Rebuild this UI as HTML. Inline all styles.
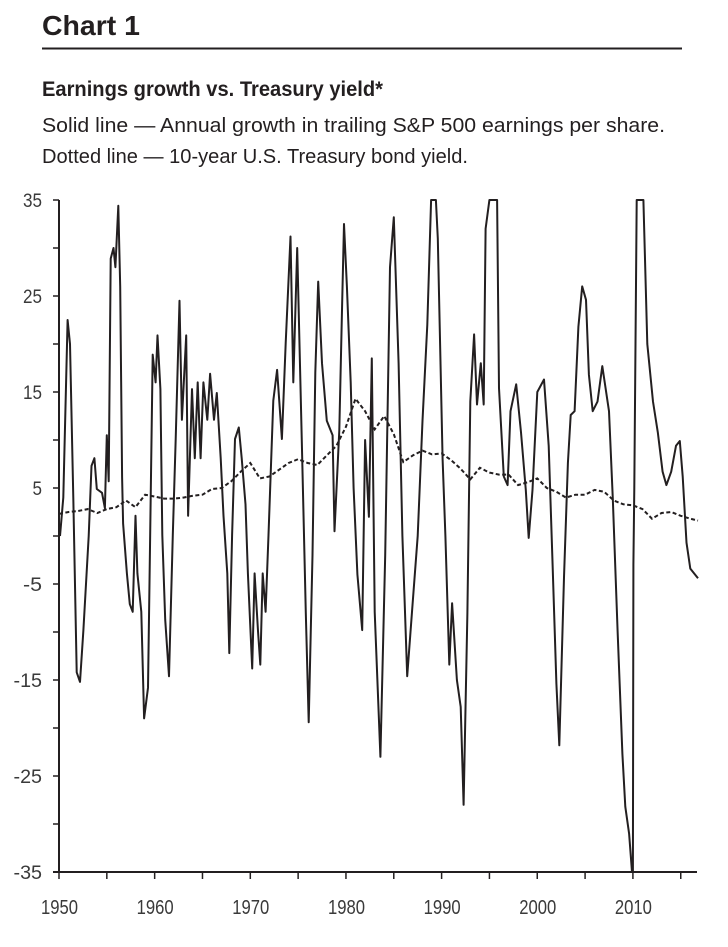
<!DOCTYPE html>
<html><head><meta charset="utf-8">
<style>
html,body{margin:0;padding:0;background:#fff;}
body{width:728px;height:942px;overflow:hidden;font-family:"Liberation Sans",sans-serif;color:#231f20;}
</style></head>
<body>
<svg width="728" height="942" viewBox="0 0 728 942" xmlns="http://www.w3.org/2000/svg">
<text x="42" y="35" font-family="Liberation Sans, sans-serif" font-weight="bold" font-size="28" fill="#231f20" textLength="98" lengthAdjust="spacingAndGlyphs">Chart 1</text>
<line x1="42" y1="48.5" x2="682" y2="48.5" stroke="#231f20" stroke-width="2"/>
<text x="42" y="96" font-family="Liberation Sans, sans-serif" font-weight="bold" font-size="21" fill="#231f20" textLength="341" lengthAdjust="spacingAndGlyphs">Earnings growth vs. Treasury yield*</text>
<text x="42" y="132" font-family="Liberation Sans, sans-serif" font-size="20" fill="#231f20" textLength="623" lengthAdjust="spacingAndGlyphs">Solid line — Annual growth in trailing S&amp;P 500 earnings per share.</text>
<text x="42" y="163" font-family="Liberation Sans, sans-serif" font-size="20" fill="#231f20" textLength="426" lengthAdjust="spacingAndGlyphs">Dotted line — 10-year U.S. Treasury bond yield.</text>
<g id="plot"></g>
</svg>
<script>
const earnYears = [1950.1,1950.45,1950.9,1951.15,1951.5,1951.85,1952.2,1952.55,1953.1,1953.4,1953.7,1953.95,1954.5,1954.8,1955.0,1955.2,1955.4,1955.7,1955.9,1956.2,1956.4,1956.6,1956.7,1957.1,1957.4,1957.7,1958.0,1958.2,1958.6,1958.9,1959.3,1959.5,1959.8,1960.1,1960.3,1960.6,1960.8,1961.1,1961.5,1961.9,1962.2,1962.6,1962.85,1963.3,1963.5,1963.9,1964.2,1964.5,1964.8,1965.1,1965.5,1965.8,1966.2,1966.5,1966.9,1967.2,1967.6,1967.8,1968.1,1968.4,1968.8,1969.1,1969.5,1969.75,1970.2,1970.45,1970.8,1971.05,1971.3,1971.6,1971.9,1972.4,1972.8,1973.3,1973.7,1974.2,1974.5,1974.9,1975.4,1975.8,1976.1,1976.5,1976.8,1977.1,1977.5,1978.0,1978.6,1978.8,1979.3,1979.6,1979.8,1980.1,1980.5,1980.8,1981.2,1981.7,1982.0,1982.4,1982.7,1983.0,1983.6,1984.1,1984.6,1985.0,1985.5,1985.9,1986.4,1986.9,1987.5,1988.0,1988.5,1988.9,1989.4,1989.6,1990.1,1990.4,1990.8,1991.1,1991.6,1992.0,1992.3,1992.7,1993.0,1993.4,1993.7,1994.1,1994.4,1994.6,1995.0,1995.8,1996.0,1996.5,1996.9,1997.2,1997.8,1998.3,1998.8,1999.1,1999.5,2000.0,2000.7,2001.2,2001.6,2002.0,2002.3,2002.8,2003.2,2003.5,2003.9,2004.3,2004.7,2005.1,2005.4,2005.8,2006.3,2006.8,2007.5,2007.9,2008.4,2008.9,2009.2,2009.6,2009.9,2010.0,2010.05,2010.15,2010.4,2011.1,2011.5,2012.1,2012.6,2013.1,2013.5,2014.0,2014.5,2014.9,2015.2,2015.6,2016.0,2016.4,2016.8];
const earnGrowth = [0,4,22.5,20,4,-14.2,-15.2,-9.8,0,7.3,8.1,4.9,4.5,2.9,10.5,5.7,28.9,30,28,34.4,26,6.1,1.3,-3.9,-7.1,-7.9,2.1,-3.9,-7.9,-19,-15.8,-1.9,18.9,16,20.9,15.3,0.1,-8.7,-14.6,0.1,10.1,24.5,12.1,20.9,2.1,15.3,8.1,16,8.1,16,12.1,16.9,12.1,14.9,8.1,2.1,-3.9,-12.2,0.1,10.1,11.3,8.1,3.3,-3.9,-13.8,-3.9,-9.9,-13.4,-3.9,-7.9,0.1,14.1,17.3,10.1,20.1,31.2,16,30,9,-8,-19.4,-2,17,26.5,18,12,10.5,0.5,11,24,32.5,26,16,5,-4,-9.8,10,2,18.5,-7.9,-23,-2,28,33.2,18,0,-14.6,-7.9,0,12,22,35,35,31,8,0,-13.4,-7,-15,-17.8,-28,-8,14,21,13.7,18,13.7,32,35,35,15.4,6.2,5.3,13,15.8,10.8,4.8,-0.2,4.8,15,16.3,9.4,-3,-15.4,-21.8,-4.3,7.6,12.6,13,21.8,26,24.6,16.8,13,14,17.7,13,3.9,-9.9,-22.7,-28.2,-31,-35,-35,-3,5,35,35,20,14,10.8,6.7,5.3,6.7,9.4,9.9,6.2,-0.7,-3.4,-3.9,-4.4];
const yieldYears = [1950,1951,1952,1953,1954,1955,1956,1957,1958,1959,1960,1961,1962,1963,1964,1965,1966,1967,1968,1969,1970,1971,1972,1973,1974,1975,1976,1977,1978,1979,1980,1981,1982,1983,1984,1985,1986,1987,1988,1989,1990,1991,1992,1993,1994,1995,1996,1997,1998,1999,2000,2001,2002,2003,2004,2005,2006,2007,2008,2009,2010,2011,2012,2013,2014,2015,2016,2016.8];
const yieldVals = [2.3,2.5,2.6,2.8,2.4,2.8,3.0,3.7,3.0,4.3,4.1,3.9,3.9,4.0,4.2,4.3,4.9,5.0,5.7,6.7,7.6,6.0,6.2,6.9,7.6,8.0,7.6,7.4,8.4,9.4,11.4,14.3,13.0,11.1,12.5,10.6,7.7,8.4,8.9,8.5,8.6,7.9,7.0,5.9,7.1,6.6,6.4,6.4,5.3,5.6,6.0,5.0,4.6,4.0,4.3,4.3,4.8,4.6,3.7,3.3,3.2,2.8,1.8,2.4,2.5,2.1,1.8,1.6];
const yTickLabels = [35,25,15,5,-5,-15,-25,-35];
const xTickLabels = [1950,1960,1970,1980,1990,2000,2010];

const X0=59, X1=697, Y0=200, Y1=872, YMIN=-35, YMAX=35, XMIN=1950, XMAX=2016.7;
const sx = yr => X0 + (yr-XMIN)/(XMAX-XMIN)*(X1-X0);
const sy = v => Y0 + (YMAX-v)/(YMAX-YMIN)*(Y1-Y0);
const NS="http://www.w3.org/2000/svg";
const plot=document.getElementById('plot');
function mk(tag, attrs){const e=document.createElementNS(NS,tag);for(const k in attrs)e.setAttribute(k,attrs[k]);return e;}

const yAxis=mk('line',{x1:X0,y1:Y0,x2:X0,y2:Y1,stroke:'#231f20','stroke-width':2});


plot.appendChild(yAxis);
const xAxis=mk('line',{x1:X0-6,y1:Y1,x2:X1,y2:Y1,stroke:'#231f20','stroke-width':2});


plot.appendChild(xAxis);

for(let v=YMIN; v<=YMAX; v+=5){
  const t=mk('line',{x1:X0-6,y1:sy(v),x2:X0,y2:sy(v),stroke:'#231f20','stroke-width':1.5});
  
  
  plot.appendChild(t);
}
yTickLabels.forEach(v=>{
  const s=String(v);
  const t=mk('text',{x:X0-17,y:sy(v)+7,'text-anchor':'end','font-size':19,fill:'#3a3a3a','font-family':'Liberation Sans, sans-serif',textLength:(s.length*9.5),lengthAdjust:'spacingAndGlyphs'});
  t.textContent=s;
  
  
  plot.appendChild(t);
});
for(let yr=1950; yr<=2015; yr+=5){
  const t=mk('line',{x1:sx(yr),y1:Y1,x2:sx(yr),y2:Y1+7,stroke:'#231f20','stroke-width':1.5});
  
  
  plot.appendChild(t);
}
xTickLabels.forEach(yr=>{
  const t=mk('text',{x:sx(yr)-18,y:914,'font-size':20,fill:'#3a3a3a','font-family':'Liberation Sans, sans-serif',textLength:37,lengthAdjust:'spacingAndGlyphs'});
  t.textContent=String(yr);
  
  
  plot.appendChild(t);
});

const clip=v=>Math.max(YMIN,Math.min(YMAX,v));
let d1=earnYears.map((yr,i)=>(i?'L':'M')+sx(yr).toFixed(1)+','+sy(clip(earnGrowth[i])).toFixed(1)).join(' ');
const solid=mk('path',{d:d1,fill:'none',stroke:'#231f20','stroke-width':2,'stroke-linejoin':'round'});


plot.appendChild(solid);

let d2=yieldYears.map((yr,i)=>(i?'L':'M')+sx(yr).toFixed(1)+','+sy(yieldVals[i]).toFixed(1)).join(' ');
const dotted=mk('path',{d:d2,fill:'none',stroke:'#231f20','stroke-width':2,'stroke-dasharray':'4 2.5'});


plot.appendChild(dotted);
</script>
</body></html>
